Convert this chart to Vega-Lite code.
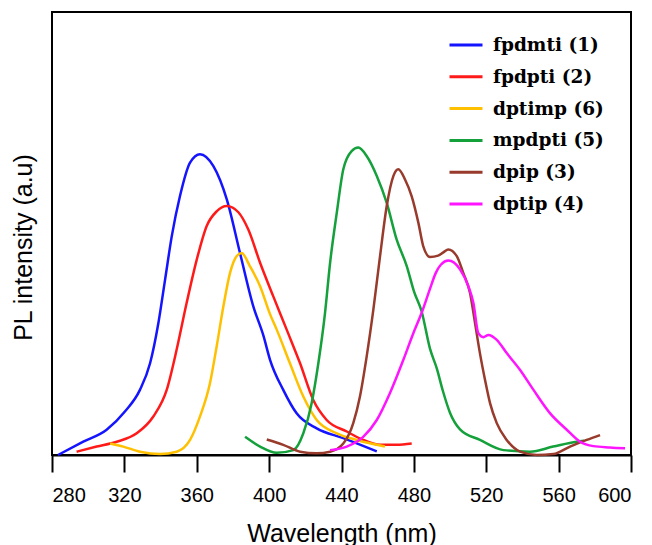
{
  "$schema": "https://vega.github.io/schema/vega-lite/v6.json",
  "width": 579,
  "height": 443,
  "autosize": {"type": "none"},
  "padding": {"left": 52, "top": 12, "right": 21, "bottom": 90},
  "background": "white",
  "config": {"view": {"stroke": "black", "strokeWidth": 2}},
  "data": {"values": [
    {"s":"fpdmti (1)","x":283.3,"y":0},{"s":"fpdmti (1)","x":297.3,"y":3},{"s":"fpdmti (1)","x":310.2,"y":5.7},{"s":"fpdmti (1)","x":320.3,"y":9.8},{"s":"fpdmti (1)","x":328.6,"y":14.7},{"s":"fpdmti (1)","x":334.2,"y":20.7},{"s":"fpdmti (1)","x":338.8,"y":29.8},{"s":"fpdmti (1)","x":342.5,"y":39.6},{"s":"fpdmti (1)","x":346.2,"y":49.4},{"s":"fpdmti (1)","x":350.7,"y":58.4},{"s":"fpdmti (1)","x":356.3,"y":66},{"s":"fpdmti (1)","x":361.8,"y":67.9},{"s":"fpdmti (1)","x":369.2,"y":65.2},{"s":"fpdmti (1)","x":376.6,"y":57.7},{"s":"fpdmti (1)","x":383.9,"y":45.6},{"s":"fpdmti (1)","x":391.3,"y":33.5},{"s":"fpdmti (1)","x":396.8,"y":27},{"s":"fpdmti (1)","x":400.5,"y":21.5},{"s":"fpdmti (1)","x":407.8,"y":14.7},{"s":"fpdmti (1)","x":415.2,"y":9.4},{"s":"fpdmti (1)","x":426.3,"y":6},{"s":"fpdmti (1)","x":441,"y":3.8},{"s":"fpdmti (1)","x":459.5,"y":0.8},
    {"s":"fpdpti (2)","x":293.6,"y":0.75},{"s":"fpdpti (2)","x":304.7,"y":1.9},{"s":"fpdpti (2)","x":315.8,"y":3},{"s":"fpdpti (2)","x":326.8,"y":4.9},{"s":"fpdpti (2)","x":336,"y":8.7},{"s":"fpdpti (2)","x":343.4,"y":14.7},{"s":"fpdpti (2)","x":348.9,"y":23.8},{"s":"fpdpti (2)","x":354.4,"y":34.3},{"s":"fpdpti (2)","x":360,"y":44.1},{"s":"fpdpti (2)","x":365.5,"y":51.7},{"s":"fpdpti (2)","x":371,"y":55},{"s":"fpdpti (2)","x":376.6,"y":56.2},{"s":"fpdpti (2)","x":383,"y":54.8},{"s":"fpdpti (2)","x":388.5,"y":50.9},{"s":"fpdpti (2)","x":395,"y":43.4},{"s":"fpdpti (2)","x":402.3,"y":35.8},{"s":"fpdpti (2)","x":409.7,"y":28.3},{"s":"fpdpti (2)","x":417.1,"y":20.7},{"s":"fpdpti (2)","x":424.4,"y":12.4},{"s":"fpdpti (2)","x":431.8,"y":7.9},{"s":"fpdpti (2)","x":442.9,"y":5.3},{"s":"fpdpti (2)","x":452,"y":3.4},{"s":"fpdpti (2)","x":461.3,"y":2.3},{"s":"fpdpti (2)","x":470.5,"y":2.3},{"s":"fpdpti (2)","x":478.8,"y":2.6},
    {"s":"dptimp (6)","x":312.1,"y":2.6},{"s":"dptimp (6)","x":319.4,"y":1.9},{"s":"dptimp (6)","x":328.6,"y":0.75},{"s":"dptimp (6)","x":339.7,"y":0.2},{"s":"dptimp (6)","x":348.9,"y":0.75},{"s":"dptimp (6)","x":356.3,"y":3.4},{"s":"dptimp (6)","x":361.8,"y":8.7},{"s":"dptimp (6)","x":367.3,"y":16.2},{"s":"dptimp (6)","x":371,"y":24.5},{"s":"dptimp (6)","x":374.7,"y":33.5},{"s":"dptimp (6)","x":378.4,"y":41.1},{"s":"dptimp (6)","x":382.1,"y":44.9},{"s":"dptimp (6)","x":384.8,"y":45.6},{"s":"dptimp (6)","x":389.4,"y":42.6},{"s":"dptimp (6)","x":395,"y":38.1},{"s":"dptimp (6)","x":400.5,"y":31.8},{"s":"dptimp (6)","x":404.2,"y":28.3},{"s":"dptimp (6)","x":411.5,"y":20.7},{"s":"dptimp (6)","x":418.9,"y":13.2},{"s":"dptimp (6)","x":426.3,"y":7.9},{"s":"dptimp (6)","x":437.4,"y":4.9},{"s":"dptimp (6)","x":448.4,"y":3.4},{"s":"dptimp (6)","x":459.5,"y":2.3},{"s":"dptimp (6)","x":464,"y":1.9},
    {"s":"mpdpti (5)","x":386.7,"y":4.1},{"s":"mpdpti (5)","x":395,"y":1.9},{"s":"mpdpti (5)","x":404.2,"y":0.5},{"s":"mpdpti (5)","x":413.4,"y":1.1},{"s":"mpdpti (5)","x":418.9,"y":4.9},{"s":"mpdpti (5)","x":423.5,"y":11.7},{"s":"mpdpti (5)","x":427.2,"y":20.7},{"s":"mpdpti (5)","x":430.9,"y":32.1},{"s":"mpdpti (5)","x":433.7,"y":43.4},{"s":"mpdpti (5)","x":437.4,"y":54.7},{"s":"mpdpti (5)","x":441,"y":64.5},{"s":"mpdpti (5)","x":445.6,"y":68.6},{"s":"mpdpti (5)","x":449.3,"y":69.4},{"s":"mpdpti (5)","x":453.9,"y":67.5},{"s":"mpdpti (5)","x":459.5,"y":63},{"s":"mpdpti (5)","x":465,"y":56.9},{"s":"mpdpti (5)","x":470.5,"y":48.6},{"s":"mpdpti (5)","x":476.1,"y":42.6},{"s":"mpdpti (5)","x":480,"y":37},{"s":"mpdpti (5)","x":484.3,"y":32.4},{"s":"mpdpti (5)","x":488.9,"y":24},{"s":"mpdpti (5)","x":492.7,"y":19.5},{"s":"mpdpti (5)","x":496,"y":14.5},{"s":"mpdpti (5)","x":500,"y":9.5},{"s":"mpdpti (5)","x":505.5,"y":5.8},{"s":"mpdpti (5)","x":516.5,"y":3.4},{"s":"mpdpti (5)","x":529.5,"y":1.1},{"s":"mpdpti (5)","x":544.2,"y":0.75},{"s":"mpdpti (5)","x":557,"y":1.9},{"s":"mpdpti (5)","x":569.9,"y":3},{"s":"mpdpti (5)","x":574,"y":3.2},
    {"s":"dpip (3)","x":398.7,"y":3.5},{"s":"dpip (3)","x":407.8,"y":2.3},{"s":"dpip (3)","x":417.1,"y":0.75},{"s":"dpip (3)","x":426.3,"y":0.4},{"s":"dpip (3)","x":433.7,"y":0.75},{"s":"dpip (3)","x":441,"y":2.6},{"s":"dpip (3)","x":446.5,"y":7.2},{"s":"dpip (3)","x":450.2,"y":13.2},{"s":"dpip (3)","x":453.9,"y":22.2},{"s":"dpip (3)","x":457.6,"y":32.8},{"s":"dpip (3)","x":461.3,"y":44.9},{"s":"dpip (3)","x":465,"y":56.2},{"s":"dpip (3)","x":468.7,"y":63},{"s":"dpip (3)","x":471.4,"y":64.5},{"s":"dpip (3)","x":475.1,"y":62.2},{"s":"dpip (3)","x":478.8,"y":58.4},{"s":"dpip (3)","x":482.5,"y":52.4},{"s":"dpip (3)","x":485.2,"y":47.1},{"s":"dpip (3)","x":488.9,"y":44.7},{"s":"dpip (3)","x":493.4,"y":45},{"s":"dpip (3)","x":496.5,"y":45.8},{"s":"dpip (3)","x":499,"y":46.4},{"s":"dpip (3)","x":503.7,"y":44.9},{"s":"dpip (3)","x":507.3,"y":41.1},{"s":"dpip (3)","x":511,"y":36.6},{"s":"dpip (3)","x":513.8,"y":29.8},{"s":"dpip (3)","x":516.5,"y":23},{"s":"dpip (3)","x":519.3,"y":17},{"s":"dpip (3)","x":522.1,"y":11.7},{"s":"dpip (3)","x":525.8,"y":7.2},{"s":"dpip (3)","x":531.3,"y":3.4},{"s":"dpip (3)","x":538.7,"y":0.75},{"s":"dpip (3)","x":547.9,"y":0},{"s":"dpip (3)","x":557.1,"y":0.2},{"s":"dpip (3)","x":566.3,"y":1.9},{"s":"dpip (3)","x":575.5,"y":3.4},{"s":"dpip (3)","x":582.9,"y":4.5},
    {"s":"dptip (4)","x":433.7,"y":1.1},{"s":"dptip (4)","x":442.9,"y":1.9},{"s":"dptip (4)","x":452,"y":4.1},{"s":"dptip (4)","x":459.5,"y":7.9},{"s":"dptip (4)","x":466.8,"y":14},{"s":"dptip (4)","x":474.2,"y":21.5},{"s":"dptip (4)","x":479.7,"y":27.5},{"s":"dptip (4)","x":484.3,"y":32.1},{"s":"dptip (4)","x":488.9,"y":37.5},{"s":"dptip (4)","x":492,"y":41},{"s":"dptip (4)","x":495,"y":43},{"s":"dptip (4)","x":499,"y":43.9},{"s":"dptip (4)","x":505.5,"y":41.9},{"s":"dptip (4)","x":510.1,"y":38.1},{"s":"dptip (4)","x":512.9,"y":34.3},{"s":"dptip (4)","x":515.6,"y":27.5},{"s":"dptip (4)","x":518.4,"y":26.6},{"s":"dptip (4)","x":521.2,"y":27.1},{"s":"dptip (4)","x":525.8,"y":26},{"s":"dptip (4)","x":531.3,"y":23},{"s":"dptip (4)","x":538.7,"y":19.2},{"s":"dptip (4)","x":546.1,"y":14.7},{"s":"dptip (4)","x":555.3,"y":9.4},{"s":"dptip (4)","x":564.5,"y":5.7},{"s":"dptip (4)","x":571.8,"y":3},{"s":"dptip (4)","x":579.2,"y":2},{"s":"dptip (4)","x":588.4,"y":1.7},{"s":"dptip (4)","x":596.7,"y":1.5}
  ]},
  "mark": {"type": "line", "strokeWidth": 2.5, "interpolate": "monotone"},
  "encoding": {
    "x": {
      "field": "x", "type": "quantitative",
      "scale": {"domain": [280, 600], "nice": false, "zero": false},
      "axis": {
        "values": [280, 320, 360, 400, 440, 480, 520, 560, 600],
        "title": "Wavelength (nm)", "grid": false,
        "domainColor": "black", "domainWidth": 2,
        "tickColor": "black", "tickWidth": 2, "tickSize": 17,
        "labelFont": "Liberation Sans", "labelFontSize": 20, "labelColor": "black",
        "labelBaseline": "alphabetic", "labelPadding": 29, "labelOverlap": false,
        "titleFont": "Liberation Sans", "titleFontSize": 25, "titleFontWeight": "normal",
        "titleColor": "black", "titleY": 86, "titleBaseline": "alphabetic"
      }
    },
    "y": {
      "field": "y", "type": "quantitative",
      "scale": {"domain": [0, 100], "nice": false},
      "axis": {
        "title": "PL intensity (a.u)", "labels": false, "ticks": false, "grid": false, "domain": false,
        "titleFont": "Liberation Sans", "titleFontSize": 25, "titleFontWeight": "normal",
        "titleColor": "black", "titleX": -29, "titleY": 235, "titleBaseline": "middle", "titleAngle": -90
      }
    },
    "color": {
      "field": "s", "type": "nominal",
      "scale": {
        "domain": ["fpdmti (1)", "fpdpti (2)", "dptimp (6)", "mpdpti (5)", "dpip (3)", "dptip (4)"],
        "range": ["#1414ff", "#ff1a1a", "#ffc000", "#14a03a", "#983a2c", "#ff14ff"]
      },
      "legend": {
        "title": null, "orient": "none", "legendX": 396, "legendY": 24,
        "symbolType": "stroke", "symbolSize": 1089, "symbolStrokeWidth": 3,
        "clipHeight": 18, "rowPadding": 12.8, "padding": 0, "labelOffset": 9,
        "labelFont": "DejaVu Serif", "labelFontWeight": "bold", "labelFontSize": 18.5,
        "labelColor": "black", "labelLimit": 300
      }
    }
  }
}
